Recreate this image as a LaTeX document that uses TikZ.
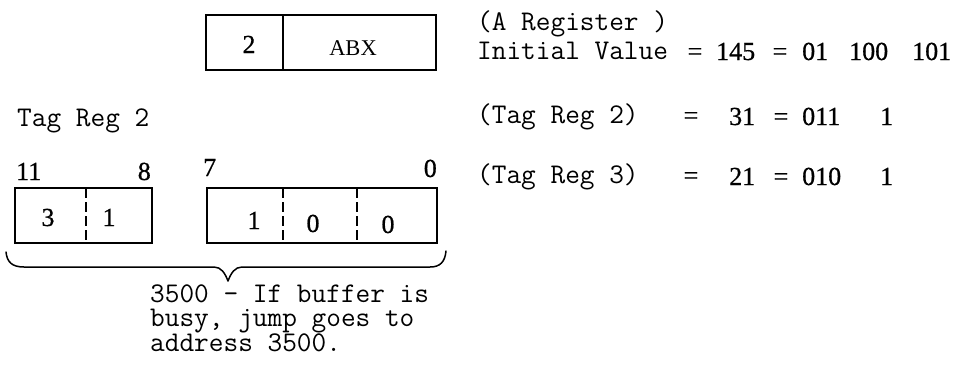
\documentclass[tikz,border=0pt]{standalone}
\usepackage{fontspec}
\setmainfont{Liberation Serif}
\newfontfamily\tymono{Latin Modern Mono}
\newfontfamily\digitfont[FakeBold=0.7]{Liberation Serif}
\begin{document}
\begin{tikzpicture}[x=1pt,y=-1pt,
  box/.style={draw=black,line width=1.5pt},
  divdash/.style={draw=black,line width=1.4pt,dash pattern=on 10pt off 4pt},
  mono/.style={inner sep=0pt,anchor=base west,font=\fontsize{28.5}{24}\tymono},
  num/.style={inner sep=0pt,font=\fontsize{26}{26}\digitfont},
  numw/.style={num,anchor=base west},
  numc/.style={num,anchor=base},
]
\useasboundingbox (0,0) rectangle (959,367);
% A register box
\draw[box] (206,15) rectangle (436,70);
\draw[box] (283,15) -- (283,70);
\node[numc] (a2) at (249,53) {2};
\node[inner sep=0pt,anchor=base,font=\fontsize{22.5}{22}\selectfont] (abx) at (353,55) {ABX};
% Tag Reg 2 label
\node[mono] (tr2) at (17,126) {Tag Reg 2};
% bit labels
\node[numw] (b11) at (16,180) {11};
\node[num,anchor=base east] (b8) at (151,180) {8};
\node[numw] (b7) at (203,176) {7};
\node[num,anchor=base east] (b0) at (437,177) {0};
% left box
\draw[box] (15,188) rectangle (152,243);
\draw[divdash] (86,188) -- (86,243);
\node[numc] (c3) at (48,226) {3};
\node[numc] (c1) at (109,226) {1};
% right box
\draw[box] (207,188) rectangle (437,243);
\draw[divdash] (283,188) -- (283,243);
\draw[divdash] (357,188) -- (357,243);
\node[numc] (d1) at (254,229) {1};
\node[numc] (d2) at (313,232) {0};
\node[numc] (d3) at (388,233) {0};
% brace
\coordinate (bl) at (6,252);
\coordinate (bt) at (228,281);
\coordinate (br) at (446,251);
\draw[line width=1.5pt,line cap=round,line join=round]
  (bl) .. controls (7,262) and (12,267) .. (24,267) -- (214,267)
  .. controls (221,267) and (225,273) .. (bt)
  .. controls (231,273) and (235,267) .. (242,267) -- (430,267)
  .. controls (440,267) and (445,262) .. (br);
% note text
\node[inner sep=0pt,anchor=north west,align=left,font=\fontsize{28.5}{24.5}\tymono] (note) at (150,284.5)
  {3500 - If buffer is\\busy, jump goes to\\address 3500.};
% right column
\node[mono] (ar) at (477,30) {(A Register )};
\node[mono] (iv) at (477,59) {Initial Value};
\node[numc] (e1) at (695,60) {=};
\node[numw] (v145) at (716,60) {145};
\node[numc] (e2) at (780,60) {=};
\node[numw] (v01) at (802,60) {01};
\node[numw] (v100) at (849,60) {100};
\node[numw] (v101) at (912,60) {101};
\node[mono] (t2) at (477,123) {(Tag Reg 2)};
\node[numc] (e3) at (691,124) {=};
\node[numw] (v31) at (729,125) {31};
\node[numc] (e4) at (781,125) {=};
\node[numw] (v011) at (802,125) {011};
\node[numw] (v1a) at (880,125) {1};
\node[mono] (t3) at (477,183) {(Tag Reg 3)};
\node[numc] (e5) at (691,184) {=};
\node[numw] (v21) at (729,185) {21};
\node[numc] (e6) at (781,185) {=};
\node[numw] (v010) at (802,185) {010};
\node[numw] (v1b) at (880,185) {1};
\end{tikzpicture}
\end{document}
